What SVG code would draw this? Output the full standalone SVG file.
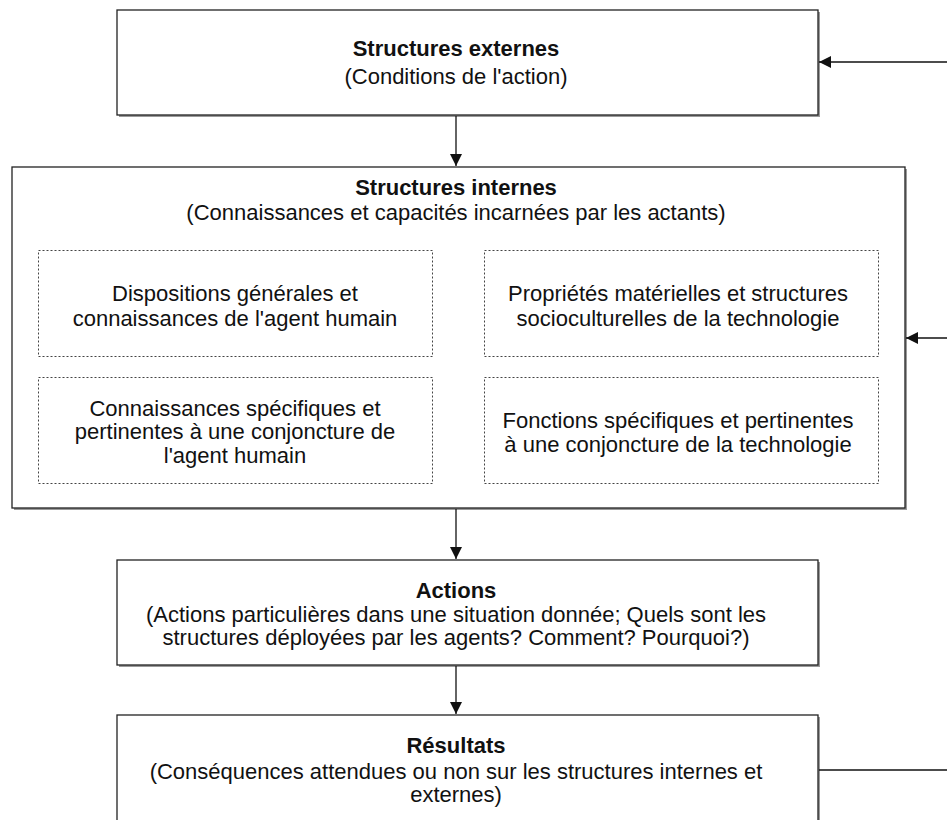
<svg xmlns="http://www.w3.org/2000/svg" width="947" height="820" viewBox="0 0 947 820">
  <style>
    .box { fill: #ffffff; stroke: #222222; stroke-width: 1.3; }
    .shadow { fill: #9a9a9a; }
    .dot { fill: none; stroke: #444444; stroke-width: 1; stroke-dasharray: 2 2; }
    .edge { fill: none; stroke: #111111; stroke-width: 1.3; }
    text { font-family: "Liberation Sans", Arial, Helvetica, sans-serif; font-size: 22px; fill: #111111; text-anchor: middle; }
    .title { font-weight: bold; }
  </style>
  <defs>
    <marker id="arrow" viewBox="0 0 12 12" refX="12" refY="6" markerWidth="12" markerHeight="12" markerUnits="userSpaceOnUse" orient="auto">
      <path d="M0,0 L12,6 L0,12 Z" fill="#111111"/>
    </marker>
  </defs>

  <!-- external structures -->
  <g id="structures-externes">
    <rect class="shadow" x="119" y="12" width="701" height="105"/>
    <rect class="box" x="117" y="10" width="701" height="105"/>
    <text class="title" x="456" y="56">Structures externes</text>
    <text x="456" y="84">(Conditions de l'action)</text>
  </g>

  <!-- internal structures with its four inner blocks -->
  <g id="structures-internes">
    <rect class="shadow" x="14" y="169" width="893" height="341"/>
    <rect class="box" x="12" y="167" width="893" height="341"/>
    <text class="title" x="456" y="195">Structures internes</text>
    <text x="456" y="220">(Connaissances et capacités incarnées par les actants)</text>
  </g>
  <g id="dispositions-agent">
    <rect class="dot" x="38.5" y="250.5" width="394" height="106"/>
    <text x="235" y="301">Dispositions générales et</text>
    <text x="235" y="326">connaissances de l'agent humain</text>
  </g>
  <g id="proprietes-technologie">
    <rect class="dot" x="484.5" y="250.5" width="394" height="106"/>
    <text x="678" y="301">Propriétés matérielles et structures</text>
    <text x="678" y="326">socioculturelles de la technologie</text>
  </g>
  <g id="connaissances-agent">
    <rect class="dot" x="38.5" y="377.5" width="394" height="106"/>
    <text x="235" y="416">Connaissances spécifiques et</text>
    <text x="235" y="439">pertinentes à une conjoncture de</text>
    <text x="235" y="463">l'agent humain</text>
  </g>
  <g id="fonctions-technologie">
    <rect class="dot" x="484.5" y="377.5" width="394" height="106"/>
    <text x="678" y="428">Fonctions spécifiques et pertinentes</text>
    <text x="678" y="452">à une conjoncture de la technologie</text>
  </g>

  <!-- actions -->
  <g id="actions">
    <rect class="shadow" x="119" y="562" width="701" height="105"/>
    <rect class="box" x="117" y="560" width="701" height="105"/>
    <text class="title" x="456" y="598">Actions</text>
    <text x="456" y="622">(Actions particulières dans une situation donnée; Quels sont les</text>
    <text x="456" y="645">structures déployées par les agents? Comment? Pourquoi?)</text>
  </g>

  <!-- results -->
  <g id="resultats">
    <rect class="shadow" x="119" y="717" width="701" height="110"/>
    <rect class="box" x="117" y="715" width="701" height="110"/>
    <text class="title" x="456" y="753">Résultats</text>
    <text x="456" y="779">(Conséquences attendues ou non sur les structures internes et</text>
    <text x="456" y="802">externes)</text>
  </g>

  <!-- connectors -->
  <g id="connectors">
    <line class="edge" x1="456" y1="116" x2="456" y2="166" marker-end="url(#arrow)"/>
    <line class="edge" x1="456" y1="509" x2="456" y2="559" marker-end="url(#arrow)"/>
    <line class="edge" x1="456" y1="666" x2="456" y2="714" marker-end="url(#arrow)"/>
    <line class="edge" x1="819" y1="770" x2="947" y2="770"/>
    <line class="edge" x1="947" y1="62" x2="819" y2="62" marker-end="url(#arrow)"/>
    <line class="edge" x1="947" y1="338" x2="906" y2="338" marker-end="url(#arrow)"/>
  </g>
</svg>
